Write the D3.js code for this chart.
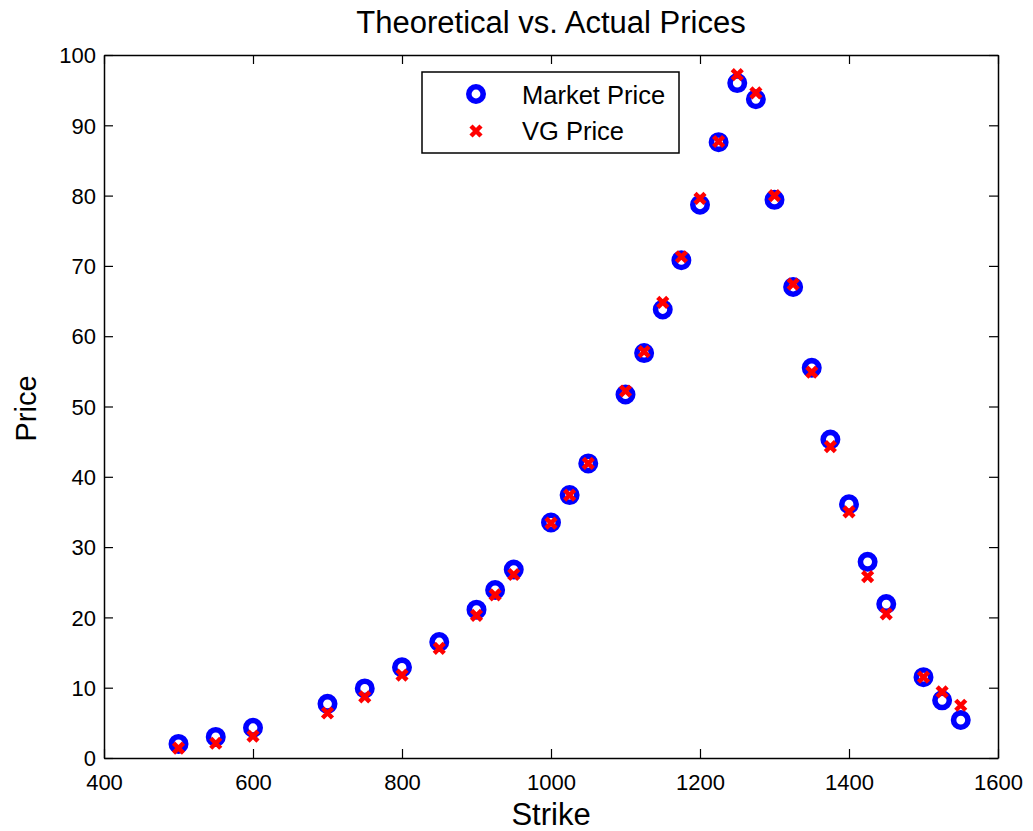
<!DOCTYPE html>
<html>
<head>
<meta charset="utf-8">
<script src="https://cdn.jsdelivr.net/npm/d3@7"></script>
<style>
  body { margin: 0; background: #fff; }
  text { font-family: "Liberation Sans", Arial, Helvetica, sans-serif; fill: #000; }
</style>
</head>
<body>
<div id="chart"></div>
<script>
// data
var strikes = [500, 550, 600, 700, 750, 800, 850, 900, 925, 950, 1000, 1025, 1050, 1100, 1125, 1150,
               1175, 1200, 1225, 1250, 1275, 1300, 1325, 1350, 1375, 1400, 1425, 1450, 1500, 1525, 1550];
var marketPrice = [2.0, 3.0, 4.3, 7.7, 9.9, 12.9, 16.5, 21.1, 23.9, 26.8, 33.5, 37.4, 41.9, 51.7, 57.6, 63.8,
                   70.8, 78.7, 87.6, 96.0, 93.7, 79.4, 67.0, 55.5, 45.3, 36.1, 27.9, 21.9, 11.5, 8.2, 5.4];
var vgPrice = [1.4, 2.1, 3.1, 6.4, 8.7, 11.8, 15.6, 20.3, 23.2, 26.1, 33.4, 37.4, 41.9, 52.2, 57.8, 64.8,
               71.3, 79.6, 87.7, 97.2, 94.6, 80.0, 67.4, 54.9, 44.3, 35.0, 25.8, 20.5, 11.5, 9.4, 7.5];
var xTicks = [400, 600, 800, 1000, 1200, 1400, 1600];
var yTicks = [0, 10, 20, 30, 40, 50, 60, 70, 80, 90, 100];

var W = 1033, H = 831;
var margin = { left: 104, right: 35, top: 55, bottom: 73 };
var w = W - margin.left - margin.right;
var h = H - margin.top - margin.bottom;

var svg = d3.select("#chart").append("svg")
    .attr("width", W)
    .attr("height", H);

var g = svg.append("g")
    .attr("transform", "translate(" + margin.left + "," + margin.top + ")");

var x = d3.scaleLinear().domain([400, 1600]).range([0, w]);
var y = d3.scaleLinear().domain([0, 100]).range([h, 0]);

// axes, MATLAB style: ticks inside, box all round
var xAxis = g.append("g")
    .attr("transform", "translate(0," + h + ")")
    .call(d3.axisBottom(x).tickValues(xTicks).tickFormat(d3.format("d")).tickSizeInner(-9).tickSizeOuter(0).tickPadding(16));
var xTop = g.append("g")
    .call(d3.axisTop(x).tickValues(xTicks).tickSizeInner(-9).tickSizeOuter(0).tickFormat(""));
var yAxis = g.append("g")
    .call(d3.axisLeft(y).tickValues(yTicks).tickFormat(d3.format("d")).tickSizeInner(-9).tickSizeOuter(0).tickPadding(8));
var yRight = g.append("g")
    .attr("transform", "translate(" + w + ",0)")
    .call(d3.axisRight(y).tickValues(yTicks).tickSizeInner(-9).tickSizeOuter(0).tickFormat(""));

[xAxis, xTop, yAxis, yRight].forEach(function(a) {
    a.select(".domain").attr("stroke", "#000").attr("stroke-width", 1.5);
    a.selectAll(".tick line").attr("stroke", "#000").attr("stroke-width", 1.2);
    a.selectAll(".tick text").attr("font-size", 22).style("font-family", "Liberation Sans, Arial, sans-serif");
});
yAxis.selectAll(".tick text").attr("dy", "0.35em");

// points
g.selectAll("circle.market")
    .data(strikes)
    .enter().append("circle")
    .attr("class", "market")
    .attr("cx", function(d) { return x(d); })
    .attr("cy", function(d, i) { return y(marketPrice[i]); })
    .attr("r", 7.2)
    .attr("fill", "none")
    .attr("stroke", "#0000ff")
    .attr("stroke-width", 5.6);

var cross = "M-5,-5L5,5M-5,5L5,-5";
g.selectAll("path.vg")
    .data(strikes)
    .enter().append("path")
    .attr("class", "vg")
    .attr("d", cross)
    .attr("transform", function(d, i) { return "translate(" + x(d) + "," + y(vgPrice[i]) + ")"; })
    .attr("stroke", "#ff0000")
    .attr("stroke-width", 4.5)
    .attr("fill", "none");

// title and labels
svg.append("text")
    .attr("x", margin.left + w / 2)
    .attr("y", 33)
    .attr("text-anchor", "middle")
    .attr("font-size", 31)
    .text("Theoretical vs. Actual Prices");

svg.append("text")
    .attr("x", margin.left + w / 2)
    .attr("y", 825)
    .attr("text-anchor", "middle")
    .attr("font-size", 31)
    .text("Strike");

svg.append("text")
    .attr("transform", "translate(36," + (margin.top + h / 2 + 2) + ") rotate(-90)")
    .attr("text-anchor", "middle")
    .attr("font-size", 29)
    .text("Price");

// legend
var legend = svg.append("g").attr("transform", "translate(422,72)");
legend.append("rect")
    .attr("width", 257)
    .attr("height", 81)
    .attr("fill", "#fff")
    .attr("stroke", "#000")
    .attr("stroke-width", 1.5);
legend.append("circle")
    .attr("cx", 54)
    .attr("cy", 22)
    .attr("r", 7.2)
    .attr("fill", "none")
    .attr("stroke", "#0000ff")
    .attr("stroke-width", 5.6);
legend.append("path")
    .attr("d", cross)
    .attr("transform", "translate(54,59)")
    .attr("stroke", "#ff0000")
    .attr("stroke-width", 4.5);
legend.append("text")
    .attr("x", 100)
    .attr("y", 32)
    .attr("font-size", 25.5)
    .text("Market Price");
legend.append("text")
    .attr("x", 100)
    .attr("y", 68)
    .attr("font-size", 25.5)
    .text("VG Price");
</script>
</body>
</html>
